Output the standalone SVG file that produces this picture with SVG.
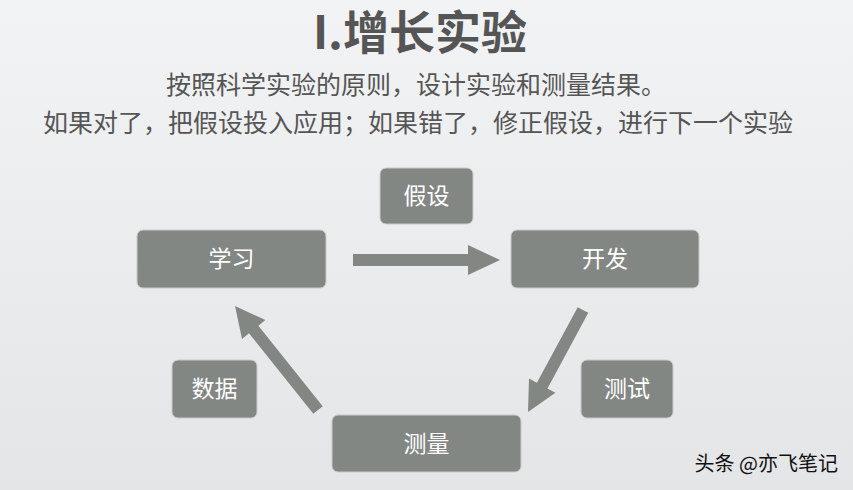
<svg xmlns="http://www.w3.org/2000/svg" width="853" height="490" viewBox="0 0 853 490">
<defs>
<linearGradient id="bg" x1="0" y1="0" x2="0" y2="1"><stop offset="0" stop-color="#f2f3f4"/><stop offset="1" stop-color="#e4e5e7"/></linearGradient>
<style>
.box{fill:#838784;stroke:#c9cbc9;stroke-width:1}
.lbl{fill:#fff;font-family:"Noto Sans CJK SC",sans-serif;font-size:23px;text-anchor:middle}
.sub{fill:#555;font-family:"Noto Sans CJK SC",sans-serif;font-size:25px;text-anchor:middle}
.arr{fill:#838784}
</style>
</defs>
<rect width="853" height="490" fill="url(#bg)"/>
<text x="420" y="49" fill="#555" font-family="'Noto Sans CJK SC',sans-serif" font-size="46" font-weight="bold" text-anchor="middle">I.增长实验</text>
<text class="sub" x="416" y="94">按照科学实验的原则，设计实验和测量结果。</text>
<text class="sub" x="418" y="132">如果对了，把假设投入应用；如果错了，修正假设，进行下一个实验</text>
<g id="n-hypo"><rect class="box" x="380" y="168" width="93" height="56" rx="6"/><text class="lbl" x="426.5" y="204">假设</text></g>
<g id="n-learn"><rect class="box" x="137" y="230" width="189" height="58" rx="6"/><text class="lbl" x="231.5" y="267">学习</text></g>
<g id="n-dev"><rect class="box" x="511" y="230" width="188" height="58" rx="6"/><text class="lbl" x="605" y="267">开发</text></g>
<g id="n-data"><rect class="box" x="172" y="360" width="85" height="58" rx="6"/><text class="lbl" x="214.5" y="397">数据</text></g>
<g id="n-test"><rect class="box" x="581" y="360" width="92" height="58" rx="6"/><text class="lbl" x="627" y="397">测试</text></g>
<g id="n-measure"><rect class="box" x="332" y="415" width="189" height="57" rx="6"/><text class="lbl" x="426.5" y="452">测量</text></g>
<g id="connectors">
<polygon class="arr" points="353,254 468,254 468,245 500,260 468,275 468,266 353,266"/>
<polygon class="arr" points="588.3,312.8 547.5,388.4 555.4,392.7 528,412 529.0,378.5 536.9,382.8 577.7,307.2"/>
<polygon class="arr" points="322.7,406.3 258.4,325.8 265.4,320.1 235,306 242.0,338.9 249.0,333.2 313.3,413.7"/>
</g>
<text x="838" y="471" fill="#111" font-family="'Noto Sans CJK SC',sans-serif" font-size="20" text-anchor="end">头条 @亦飞笔记</text>
</svg>
